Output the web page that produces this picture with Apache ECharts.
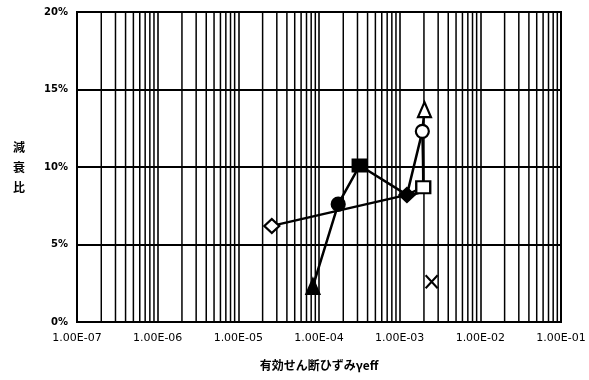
<!DOCTYPE html>
<html>
<head>
<meta charset="utf-8">
<script src="https://cdn.jsdelivr.net/npm/echarts@6/dist/echarts.min.js"></script>
<style>html,body{margin:0;padding:0;background:#fff}#c{width:589px;height:380px}</style>
</head>
<body>
<div id="c"></div>
<script>
// ---- data ----
const pointX = [2.6e-5, 1.73e-4, 3.2e-4, 1.23e-3, 1.96e-3, 1.91e-3, 2.03e-3, 8.4e-5, 2.49e-3];
const pointY = [6.2, 7.6, 10.1, 8.2, 8.7, 12.3, 13.7, 2.3, 2.6];
const pointSymbols = ['diamond', 'circle', 'rect', 'diamond', 'rect', 'circle', 'triangle', 'triangle', 'cross'];
const pointFilled = [false, true, true, true, false, false, false, true, false];
const pathA = [7, 1, 2, 3, 5, 6];   // straight polyline
const pathB = [0, 3, 4];            // straight polyline
const pathC = [3, 4, 5];            // smoothed curve
const yTicks = [0, 5, 10, 15, 20];
const xMin = 1e-7, xMax = 1e-1;
const minorMult = [2, 3, 4, 5, 6, 7, 8, 9];

const crossPath = 'path://M0,0L10,10M10,0L0,10';
const symbolMap = { diamond: 'diamond', circle: 'circle', rect: 'rect', triangle: 'triangle', cross: crossPath };
const sizeMap = { diamond: [15, 14], circle: [13, 13], rect: [14, 12], triangle: [13, 15], cross: [12, 13] };

function pts(idx) { return idx.map(i => [pointX[i], pointY[i]]); }

// minor vertical gridlines (2..9 of each decade), as broken line segments
const minorData = [];
for (let e = -7; e < -1; e++) {
  for (const m of minorMult) {
    const v = m * Math.pow(10, e);
    minorData.push([v, yTicks[0]], [v, yTicks[yTicks.length - 1]], [v, '-']);
  }
}

function fmtExp(v) {
  const e = Math.round(Math.log10(v));
  const s = Math.abs(e) < 10 ? '0' + Math.abs(e) : '' + Math.abs(e);
  return '1.00E' + (e < 0 ? '-' : '+') + s;
}

const lineStyle = { color: '#000', width: 2.5 };
const markerData = pointX.map((x, i) => {
  const sym = pointSymbols[i];
  const filled = pointFilled[i];
  return {
    value: [x, pointY[i]],
    symbol: symbolMap[sym],
    symbolSize: sizeMap[sym],
    itemStyle: {
      color: sym === 'cross' ? 'rgba(0,0,0,0)' : (filled ? '#000' : '#fff'),
      borderColor: '#000',
      borderWidth: 2.2,
      opacity: 1
    }
  };
});

const chart = echarts.init(document.getElementById('c'), null, { renderer: 'canvas' });
chart.setOption({
  animation: false,
  backgroundColor: '#fff',
  grid: { left: 77, right: 28, top: 12, bottom: 58, show: true, borderColor: '#000', borderWidth: 2, backgroundColor: 'transparent' },
  xAxis: {
    type: 'log', logBase: 10, min: xMin, max: xMax,
    name: '有効せん断ひずみγeff', nameLocation: 'middle', nameGap: 37,
    nameTextStyle: { fontFamily: 'Noto Sans CJK JP', fontSize: 12, fontWeight: 'bold', color: '#000' },
    axisLine: { lineStyle: { color: '#000', width: 2 } },
    axisTick: { show: false },
    axisLabel: { formatter: fmtExp, fontFamily: 'DejaVu Sans', fontSize: 11, color: '#000', margin: 11 },
    splitLine: { show: true, lineStyle: { color: '#000', width: 1.6 } }
  },
  yAxis: {
    type: 'value', min: 0, max: 20, interval: 5,
    name: '減\n衰\n比', nameLocation: 'middle', nameGap: 52, nameRotate: 0,
    nameTextStyle: { fontFamily: 'Noto Sans CJK JP', fontSize: 12, fontWeight: 'bold', color: '#000', lineHeight: 20 },
    axisLine: { lineStyle: { color: '#000', width: 2 } },
    axisTick: { show: false },
    axisLabel: { formatter: v => yTicks.includes(v) ? v + '%' : '', fontFamily: 'DejaVu Sans', fontWeight: 'bold', fontSize: 10, color: '#000', margin: 9 },
    splitLine: { show: true, lineStyle: { color: '#000', width: 2 } }
  },
  series: [
    { type: 'line', data: minorData, silent: true, showSymbol: false, connectNulls: false,
      lineStyle: { color: '#000', width: 1.5 }, z: 1 },
    { type: 'line', data: pts(pathA), showSymbol: false, lineStyle: lineStyle, z: 3 },
    { type: 'line', data: pts(pathB), showSymbol: false, lineStyle: lineStyle, z: 3 },
    { type: 'line', data: pts(pathC), showSymbol: false, smooth: 1, smoothConstraint: false, lineStyle: lineStyle, z: 3 },
    { type: 'scatter', data: markerData, z: 5 }
  ]
});
</script>
</body>
</html>
